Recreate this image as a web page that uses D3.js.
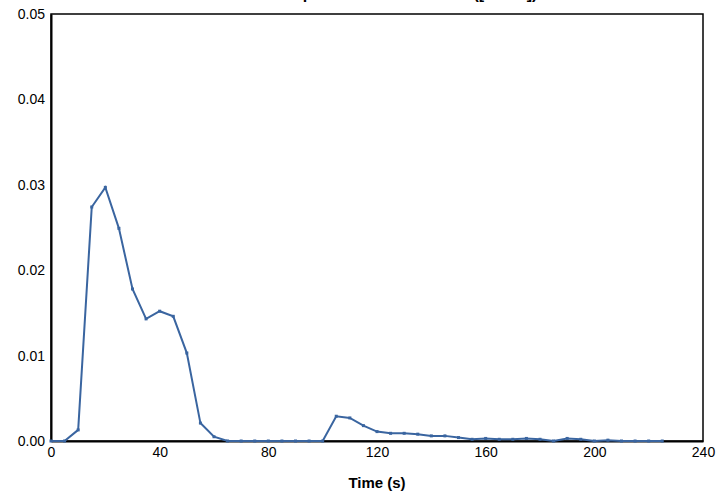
<!DOCTYPE html>
<html><head><meta charset="utf-8">
<script src="https://cdn.jsdelivr.net/npm/d3@7"></script>
<style>body{margin:0;background:#fff}text{font-family:Arial,"Liberation Sans",sans-serif}</style>
</head><body>
<svg id="chart" width="719" height="497"></svg>
<script>
const times = d3.range(0, 230, 5);
const values = [0,0,0.0013,0.0274,0.0297,0.0249,0.0178,0.0143,0.0152,0.0146,0.0103,0.0021,0.0005,0,0,0,0,0,0,0,0,0.0029,0.0027,0.0018,0.0011,0.0009,0.0009,0.0008,0.0006,0.0006,0.0004,0.0002,0.0003,0.0002,0.0002,0.0003,0.0002,0,0.0003,0.0002,0,0.0001,0,0,0,0];
const xTicks = [0,40,80,120,160,200,240];
const yTicks = [0,0.01,0.02,0.03,0.04,0.05];

const svg = d3.select("#chart");
const margin = {top: 14, right: 16, bottom: 56, left: 51};
const width = 719 - margin.left - margin.right,
      height = 497 - margin.top - margin.bottom;

const x = d3.scaleLinear().domain([0, 240]).range([0, width]);
const y = d3.scaleLinear().domain([0, 0.05]).range([height, 0]);

const g = svg.append("g").attr("transform", "translate(" + margin.left + "," + margin.top + ")");

// title sits mostly above the visible area, as in the reference
svg.append("text")
  .attr("x", margin.left + width / 2).attr("y", -1)
  .attr("text-anchor", "middle").attr("font-weight", "bold").attr("font-size", 16)
  .text("Outlet Component Concentration ([mol/L])");

g.append("rect").attr("width", width).attr("height", height)
  .attr("fill", "none").attr("stroke", "#000").attr("stroke-width", 1.5);

const xAxis = g.append("g").attr("transform", "translate(0," + height + ")")
  .call(d3.axisBottom(x).tickValues(xTicks).tickSize(0).tickPadding(6));
const yAxis = g.append("g")
  .call(d3.axisLeft(y).tickValues(yTicks).tickSize(0).tickPadding(6).tickFormat(d3.format(".2f")));
[xAxis, yAxis].forEach(function(a){
  a.select(".domain").attr("stroke", "#000").attr("stroke-width", 2);
  a.selectAll("text").attr("font-size", 14).attr("fill", "#000");
});

svg.append("text")
  .attr("x", margin.left + width / 2).attr("y", 488)
  .attr("text-anchor", "middle").attr("font-weight", "bold").attr("font-size", 15)
  .text("Time (s)");

const pts = times.map(function(t, i){ return [t, values[i]]; });
g.append("path").datum(pts)
  .attr("fill", "none").attr("stroke", "#3a65a0").attr("stroke-width", 2)
  .attr("d", d3.line().x(function(d){ return x(d[0]); }).y(function(d){ return y(d[1]); }));
g.selectAll(".pt").data(pts).join("rect").attr("class", "pt")
  .attr("x", function(d){ return x(d[0]) - 1.5; })
  .attr("y", function(d){ return y(d[1]) - 1.5; })
  .attr("width", 3).attr("height", 3).attr("fill", "#3a65a0");
</script>
</body></html>
